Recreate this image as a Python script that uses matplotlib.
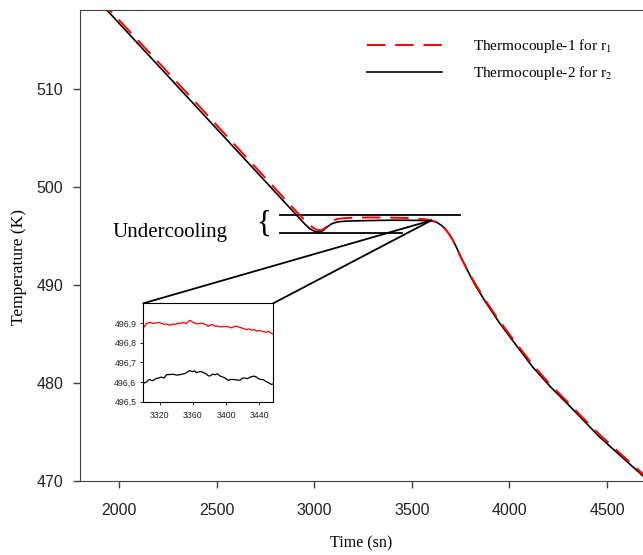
import numpy as np
import matplotlib
matplotlib.use('Agg')
import matplotlib.pyplot as plt
from matplotlib.patches import ConnectionPatch

plt.rcParams['font.family'] = ['Liberation Sans', 'DejaVu Sans']
plt.rcParams['mathtext.fontset'] = 'stix'

# main curves (time in s, temperature in K)
t_tc1 = [1850, 2000, 2250, 2500, 2750, 2900, 2950, 2975, 2995, 3010, 3022, 3035, 3048,
         3060, 3075, 3090, 3105, 3125, 3150, 3200, 3300, 3400, 3480, 3530, 3565, 3590,
         3610, 3630, 3650, 3670, 3690, 3710, 3730, 3750, 3770, 3800, 3830, 3880, 3950,
         4040, 4120, 4210, 4300, 4380, 4460, 4580, 4700]
T_tc1 = [520.30, 517.10, 511.75, 506.35, 500.95, 497.70, 496.65, 496.15, 495.85, 495.68,
         495.60, 495.60, 495.70, 495.90, 496.25, 496.52, 496.66, 496.76, 496.83, 496.87,
         496.90, 496.88, 496.84, 496.78, 496.72, 496.65, 496.55, 496.38, 496.12, 495.75,
         495.25, 494.60, 493.80, 492.90, 492.10, 491.00, 489.95, 488.35, 486.30, 483.90,
         481.85, 479.80, 478.00, 476.35, 474.75, 472.55, 470.40]

t_tc2 = [1850, 2000, 2250, 2500, 2750, 2900, 2950, 2975, 2995, 3010, 3020, 3030, 3042,
         3055, 3070, 3085, 3100, 3120, 3145, 3200, 3300, 3400, 3480, 3530, 3565, 3590,
         3610, 3630, 3650, 3670, 3690, 3710, 3730, 3750, 3770, 3800, 3830, 3880, 3950,
         4040, 4120, 4210, 4300, 4380, 4460, 4580, 4700]
T_tc2 = [519.99, 516.77, 511.38, 505.98, 500.59, 497.35, 496.27, 495.80, 495.55, 495.45,
         495.42, 495.43, 495.52, 495.72, 495.98, 496.20, 496.33, 496.44, 496.50, 496.55,
         496.59, 496.62, 496.61, 496.60, 496.60, 496.58, 496.52, 496.38, 496.12, 495.75,
         495.25, 494.60, 493.80, 492.90, 492.10, 490.90, 489.80, 488.20, 486.10, 483.70,
         481.60, 479.60, 477.80, 476.15, 474.50, 472.35, 470.20]

# inset (zoomed plateau)
t_in1 = [3300, 3304, 3308, 3312, 3316, 3319, 3322, 3325, 3328, 3332, 3336, 3339, 3342,
         3345, 3348, 3352, 3356, 3358, 3360, 3364, 3366, 3369, 3372, 3376, 3378, 3380,
         3383, 3385, 3387, 3389, 3393, 3397, 3401, 3404, 3407, 3410, 3413, 3416, 3419,
         3422, 3425, 3428, 3431, 3434, 3437, 3440, 3443, 3446, 3449, 3451, 3454, 3457]
T_in1 = [496.875, 496.897, 496.903, 496.898, 496.900, 496.903, 496.898, 496.893, 496.895,
         496.888, 496.895, 496.892, 496.900, 496.897, 496.903, 496.897, 496.913, 496.910,
         496.903, 496.897, 496.895, 496.898, 496.897, 496.892, 496.883, 496.888, 496.892,
         496.887, 496.883, 496.885, 496.880, 496.882, 496.883, 496.878, 496.875, 496.883,
         496.883, 496.878, 496.875, 496.870, 496.867, 496.870, 496.863, 496.867, 496.858,
         496.862, 496.858, 496.855, 496.853, 496.858, 496.850, 496.843]

t_in2 = [3300, 3302, 3304, 3306, 3308, 3310, 3312, 3315, 3318, 3320, 3322, 3325, 3328,
         3332, 3336, 3340, 3344, 3347, 3350, 3353, 3356, 3358, 3360, 3362, 3364, 3368,
         3370, 3373, 3376, 3378, 3380, 3384, 3387, 3389, 3393, 3396, 3399, 3401, 3403,
         3405, 3409, 3413, 3417, 3420, 3423, 3426, 3429, 3433, 3436, 3439, 3442, 3445,
         3448, 3451, 3454, 3455, 3457]
T_in2 = [496.592, 496.597, 496.600, 496.610, 496.613, 496.607, 496.608, 496.617, 496.620,
         496.623, 496.625, 496.620, 496.637, 496.638, 496.640, 496.635, 496.637, 496.640,
         496.643, 496.650, 496.658, 496.655, 496.653, 496.657, 496.647, 496.653, 496.653,
         496.647, 496.642, 496.633, 496.630, 496.640, 496.637, 496.642, 496.630, 496.625,
         496.620, 496.613, 496.608, 496.613, 496.613, 496.610, 496.610, 496.620, 496.620,
         496.617, 496.625, 496.630, 496.627, 496.617, 496.613, 496.612, 496.603, 496.597,
         496.590, 496.587, 496.592]

labels = ['Thermocouple-1 for r$_1$', 'Thermocouple-2 for r$_2$']
xticks = [2000, 2500, 3000, 3500, 4000, 4500]
yticks = [470, 480, 490, 500, 510]
in_xticks = [3320, 3360, 3400, 3440]
in_yticks = [496.5, 496.6, 496.7, 496.8, 496.9]
in_ylabels = ['496,5', '496,6', '496,7', '496,8', '496,9']

serif = ['Liberation Serif', 'DejaVu Serif']
spine_c = '#404040'

fig = plt.figure(figsize=(6.43, 5.55), dpi=100)
ax = fig.add_axes([80/643, 74.3/555, 563/643, 470.7/555])

l1, = ax.plot(t_tc1, T_tc1, color='red', lw=1.4, ls=(0, (9.5, 5)), zorder=3)
l2, = ax.plot(t_tc2, T_tc2, color='black', lw=1.2, zorder=2)

ax.set_xlim(1801, 4684)
ax.set_ylim(470, 518.1)
ax.set_xticks(xticks)
ax.set_yticks(yticks)
ax.tick_params(direction='out', length=5, width=1, color=spine_c, labelsize=11.5,
               labelcolor='#222222')
ax.tick_params(axis='x', pad=11)
ax.tick_params(axis='y', pad=7)
for s in ['left', 'bottom', 'top']:
    ax.spines[s].set_color(spine_c)
ax.spines['right'].set_visible(False)
ax.set_xlabel('Time (sn)', family=serif, fontsize=11.5)
ax.set_ylabel('Temperature (K)', family=serif, fontsize=12.5)
ax.xaxis.set_label_coords(0.5, -0.117)
ax.yaxis.set_label_coords(-0.095, 0.455)

ax.legend([l1, l2], labels, loc='upper left', bbox_to_anchor=(0.51, 0.942),
          frameon=False, borderaxespad=0, borderpad=0, handlelength=4.9,
          handletextpad=2.0, labelspacing=0.6, prop={'family': serif, 'size': 11})

# undercooling marker
ax.plot([2825, 3747], [497.2, 497.2], color='black', lw=1.3)
ax.plot([2825, 3452], [495.3, 495.3], color='black', lw=1.3)
ax.text(2780, 496.25, '{', family=serif, fontsize=22, ha='right', va='center')
ax.text(1965, 494.9, 'Undercooling', family=serif, fontsize=15, ha='left', va='baseline')

# inset
axin = fig.add_axes([143.3/643, (555-401.7)/555, 130/643, 98.4/555])
axin.plot(t_in1, T_in1, color='red', lw=0.9)
axin.plot(t_in2, T_in2, color='black', lw=0.9)
axin.set_xlim(3300, 3457)
axin.set_ylim(496.5, 497.0)
axin.set_xticks(in_xticks)
axin.set_yticks(in_yticks)
axin.set_yticklabels(in_ylabels)
axin.tick_params(direction='out', length=2, width=0.6, labelsize=6.3,
                 labelcolor='#222222', pad=3)
axin.tick_params(axis='x', pad=5)

for cx in [0, 1]:
    con = ConnectionPatch(xyA=(cx, 1), coordsA=axin.transAxes,
                          xyB=(3600, 496.6), coordsB=ax.transData,
                          color='black', lw=1.3)
    fig.add_artist(con)

fig.savefig('out.png', dpi=100)
